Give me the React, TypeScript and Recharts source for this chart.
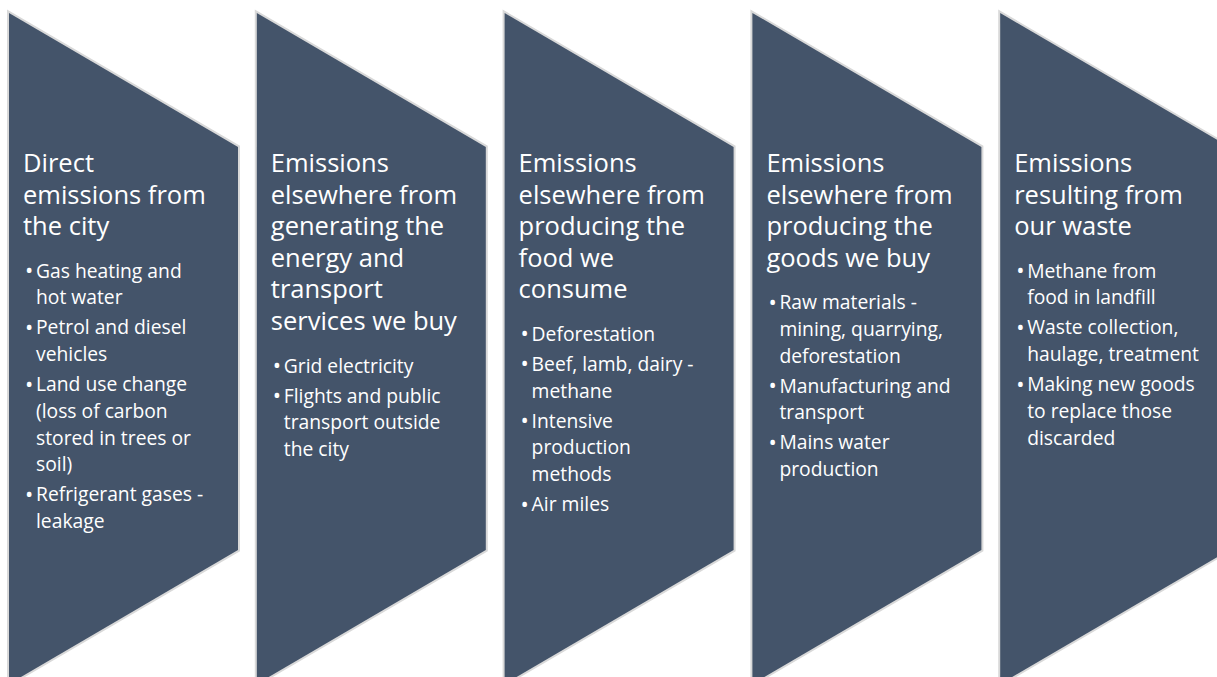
import { BarChart, Bar, XAxis, YAxis } from 'recharts';

// one chevron per emission source, each the full height of the band
const stages = ['direct', 'energy', 'food', 'goods', 'waste'];
const stageSpan = [1, 1, 1, 1, 1];

const titles: string[][] = [
  ['Direct', 'emissions from', 'the city'],
  ['Emissions', 'elsewhere from', 'generating the', 'energy and', 'transport', 'services we buy'],
  ['Emissions', 'elsewhere from', 'producing the', 'food we', 'consume'],
  ['Emissions', 'elsewhere from', 'producing the', 'goods we buy'],
  ['Emissions', 'resulting from', 'our waste'],
];

const bullets: string[][][] = [
  [
    ['Gas heating and', 'hot water'],
    ['Petrol and diesel', 'vehicles'],
    ['Land use change', '(loss of carbon', 'stored in trees or', 'soil)'],
    ['Refrigerant gases -', 'leakage'],
  ],
  [['Grid electricity'], ['Flights and public', 'transport outside', 'the city']],
  [['Deforestation'], ['Beef, lamb, dairy -', 'methane'], ['Intensive', 'production', 'methods'], ['Air miles']],
  [['Raw materials -', 'mining, quarrying,', 'deforestation'], ['Manufacturing and', 'transport'], ['Mains water', 'production']],
  [['Methane from', 'food in landfill'], ['Waste collection,', 'haulage, treatment'], ['Making new goods', 'to replace those', 'discarded']],
];

const data = stages.map((id, i) => ({ id, span: stageSpan[i] }));

const FILL = '#44546A';
const EDGE = '#d9d9d9';
const FONT = '"Open Sans", sans-serif';
const POINT = 134; // depth of the slanted top/bottom

interface ShapeProps {
  x?: number;
  y?: number;
  width?: number;
  height?: number;
  index?: number;
}

const Chevron = ({ x = 0, y = 0, width = 0, height = 0, index = 0 }: ShapeProps) => {
  const pts = `${x},${y} ${x + width},${y + POINT} ${x + width},${y + height - POINT} ${x},${y + height}`;
  const title = titles[index] || [];
  const items = bullets[index] || [];

  const lines: JSX.Element[] = [];
  let by = y + 159;
  title.forEach((t, i) => {
    lines.push(
      <text key={`t${i}`} x={x + 14} y={by} fill="#fff" fontSize={25.5} fontFamily={FONT}>
        {t}
      </text>
    );
    if (i < title.length - 1) by += 31.6;
  });
  by += 42.5;
  items.forEach((item, j) => {
    item.forEach((line, k) => {
      lines.push(
        <text key={`b${j}-${k}`} x={x + 27} y={by} fill="#fff" fontSize={19.3} fontFamily={FONT}>
          {k === 0 && (
            <tspan x={x + 16} y={by + 0.5} fontSize={22}>
              •
            </tspan>
          )}
          <tspan x={x + 27} y={by}>
            {line}
          </tspan>
        </text>
      );
      if (k < item.length - 1) by += 26.7;
    });
    by += 30;
  });

  return (
    <g>
      <polygon points={pts} fill={EDGE} stroke={EDGE} strokeWidth={4} strokeLinejoin="miter" />
      <polygon points={pts} fill={FILL} />
      {lines}
    </g>
  );
};

export default function App() {
  return (
    <div style={{ position: 'absolute', left: 0, top: 0, width: 1217, height: 677, overflow: 'hidden', background: '#fff' }}>
      <BarChart width={1239} height={700} data={data} margin={{ top: 13, right: 0, bottom: 16, left: 0 }}>
        <XAxis dataKey="id" hide />
        <YAxis hide domain={[0, 1]} />
        <Bar dataKey="span" barSize={229} shape={(p: ShapeProps) => <Chevron {...p} />} isAnimationActive={false} />
      </BarChart>
    </div>
  );
}
